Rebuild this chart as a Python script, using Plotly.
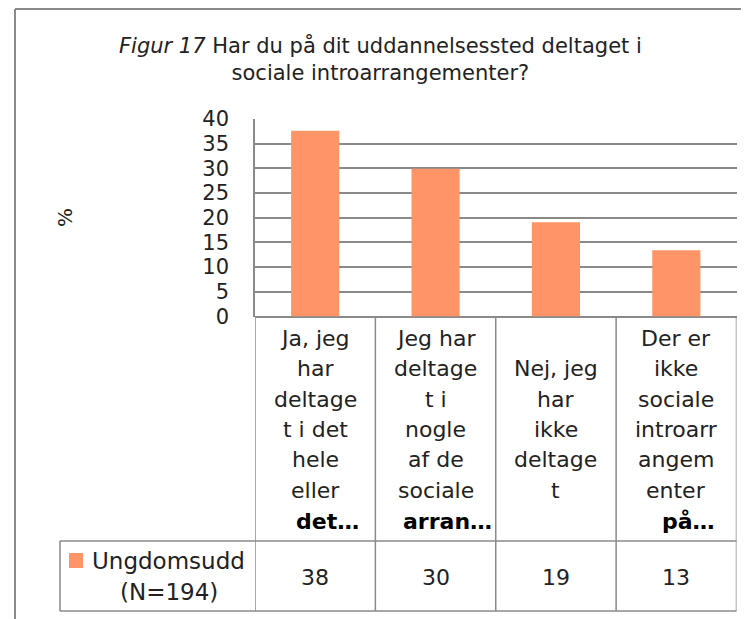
import plotly.graph_objects as go

# ---- data ----
categories = ["Ja, jeg har deltaget i det hele eller det meste",
              "Jeg har deltaget i nogle af de sociale arrangementer",
              "Nej, jeg har ikke deltaget",
              "Der er ikke sociale introarrangementer på mit uddannelsessted"]
category_label_lines = [
    ["Ja, jeg", "har", "deltage", "t i det", "hele", "eller", "det…"],
    ["Jeg har", "deltage", "t i", "nogle", "af de", "sociale", "arran…"],
    ["Nej, jeg", "har", "ikke", "deltage", "t"],
    ["Der er", "ikke", "sociale", "introarr", "angem", "enter", "på…"],
]
truncated_last = [True, True, False, True]
values = [37.6, 29.9, 19.1, 13.4]
series_label_lines = ["Ungdomsudd", "(N=194)"]
y_ticks = [0, 5, 10, 15, 20, 25, 30, 35, 40]
title_text = "<i>Figur 17</i> Har du på dit uddannelsessted deltaget i<br>sociale introarrangementer?"
y_title = "%"

# ---- layout helpers (screen pixel -> paper); page body has an 8px margin ----
OX, OY = 8, 8
W, H = 749 - OX, 619 - OY
def px(x):
    return (x - OX) / W
def py(y):
    return 1 - (y - OY) / H

BAR_COLOR = "#FF9466"
LINE_COLOR = "#8A8A8A"
FONT = "DejaVu Sans"
TXT = "#222222"

plot_left, plot_right = 255, 736.5
plot_top, plot_bottom = 119, 316.5
row1_bottom, row2_bottom = 541, 611
legend_left = 60

n = len(categories)
xs = list(range(n))

fig = go.Figure()
fig.add_trace(go.Bar(x=xs, y=values, marker=dict(color=BAR_COLOR, line=dict(width=0)),
                     width=0.4, showlegend=False, hoverinfo="y"))

shapes = []
# outer chart border (left and top edges visible)
shapes.append(dict(type="line", xref="paper", yref="paper", x0=px(15), x1=px(15),
                   y0=py(9), y1=py(640), line=dict(color=LINE_COLOR, width=2)))
shapes.append(dict(type="line", xref="paper", yref="paper", x0=px(15), x1=px(760),
                   y0=py(9), y1=py(9), line=dict(color=LINE_COLOR, width=2)))
# table vertical dividers (category boundaries)
for k in range(n + 1):
    shapes.append(dict(type="line", xref="x", yref="paper", x0=k - 0.5, x1=k - 0.5,
                       y0=py(plot_bottom), y1=py(row2_bottom),
                       line=dict(color=LINE_COLOR, width=1.5)))
# table horizontal lines
for yy in (row1_bottom, row2_bottom):
    shapes.append(dict(type="line", xref="paper", yref="paper", x0=px(legend_left), x1=px(plot_right),
                       y0=py(yy), y1=py(yy), line=dict(color=LINE_COLOR, width=1.5)))
shapes.append(dict(type="line", xref="paper", yref="paper", x0=px(legend_left), x1=px(legend_left),
                   y0=py(row1_bottom), y1=py(row2_bottom), line=dict(color=LINE_COLOR, width=1.5)))
# legend key square
shapes.append(dict(type="rect", xref="paper", yref="paper", x0=px(69), x1=px(83),
                   y0=py(568), y1=py(553), fillcolor=BAR_COLOR, line=dict(width=0)))

annotations = []
# category labels in the table header row
line_h = 30.5
center_y = 429.5
for i, lines in enumerate(category_label_lines):
    m = len(lines)
    for j, t in enumerate(lines):
        yy = center_y + (j - (m - 1) / 2) * line_h
        last_bold = truncated_last[i] and j == m - 1
        annotations.append(dict(x=xs[i], xref="x", y=py(yy), yref="paper",
                                text=f"<b>{t}</b>" if last_bold else t,
                                showarrow=False, xanchor="center", yanchor="middle",
                                xshift=12 if last_bold else 0,
                                font=dict(family=FONT, size=22, color="#000" if last_bold else TXT)))
# values row
for i, v in enumerate(values):
    annotations.append(dict(x=xs[i], xref="x", y=py(577), yref="paper", text=str(round(v)),
                            showarrow=False, xanchor="center", yanchor="middle",
                            font=dict(family=FONT, size=22, color=TXT)))
# series label
for j, t in enumerate(series_label_lines):
    annotations.append(dict(x=px(168.5), xref="paper", y=py(561 + j * 31), yref="paper", text=t,
                            showarrow=False, xanchor="center", yanchor="middle",
                            font=dict(family=FONT, size=23, color=TXT)))
# y axis title
annotations.append(dict(x=px(65), xref="paper", y=py(218), yref="paper", text=y_title,
                        textangle=-90, showarrow=False, xanchor="center", yanchor="middle",
                        font=dict(family=FONT, size=20, color=TXT)))
# chart title
annotations.append(dict(x=px(380), xref="paper", y=py(58.5), yref="paper", text=title_text,
                        showarrow=False, xanchor="center", yanchor="middle", align="center",
                        font=dict(family=FONT, size=21, color=TXT)))

fig.update_layout(
    width=W, height=H,
    margin=dict(l=0, r=0, t=0, b=0, autoexpand=False),
    paper_bgcolor="white", plot_bgcolor="white",
    shapes=shapes, annotations=annotations,
    xaxis=dict(domain=[px(plot_left), px(plot_right)], range=[-0.5, n - 0.5],
               showticklabels=False, showgrid=False, zeroline=False, showline=False,
               fixedrange=True),
    yaxis=dict(domain=[py(plot_bottom), py(plot_top)], range=[0, 40], tickvals=y_ticks,
               showgrid=True, gridcolor=LINE_COLOR, gridwidth=1.5,
               zeroline=True, zerolinecolor=LINE_COLOR, zerolinewidth=1.5,
               showline=True, linecolor=LINE_COLOR, linewidth=1.5,
               ticks="", ticklabelstandoff=20,
               tickfont=dict(family=FONT, size=21, color=TXT), fixedrange=True),
    showlegend=False,
)

fig.write_html("out.html")
